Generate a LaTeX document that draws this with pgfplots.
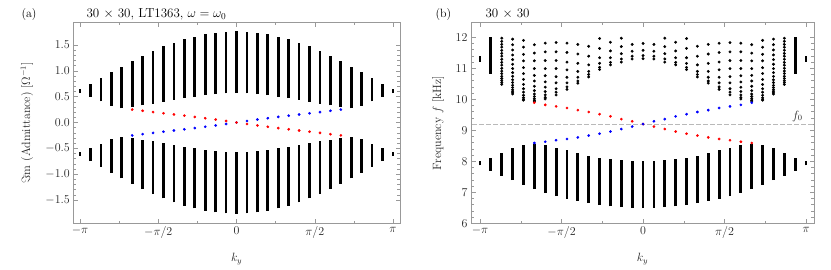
\RequirePackage{fix-cm}
\documentclass[border=0pt]{standalone}
\usepackage{pgfplots}
\pgfplotsset{compat=1.18}
\usepackage{pgfplotstable}
\definecolor{framegray}{gray}{0.6}
\definecolor{mred}{rgb}{1,0,0}
\definecolor{mblue}{rgb}{0,0,1}

% (a) upper band: column index n (k = -pi + n*pi/15), lower and upper edge
\pgfplotstableread{
n lo hi
0 0.570 0.640
1 0.500 0.745
2 0.410 0.857
3 0.325 0.970
4 0.275 1.080
5 0.300 1.188
6 0.330 1.290
7 0.365 1.385
8 0.400 1.470
9 0.440 1.545
10 0.470 1.608
11 0.500 1.663
12 0.528 1.703
13 0.548 1.737
14 0.562 1.757
15 0.567 1.765
16 0.562 1.757
17 0.548 1.737
18 0.528 1.703
19 0.500 1.663
20 0.470 1.608
21 0.440 1.545
22 0.400 1.470
23 0.365 1.385
24 0.330 1.290
25 0.300 1.188
26 0.275 1.080
27 0.325 0.970
28 0.410 0.857
29 0.500 0.745
30 0.570 0.640
}\bandAup
% (a) lower band
\pgfplotstableread{
n lo hi
0 -0.640 -0.570
1 -0.745 -0.500
2 -0.857 -0.410
3 -0.970 -0.325
4 -1.080 -0.275
5 -1.188 -0.300
6 -1.290 -0.330
7 -1.385 -0.365
8 -1.470 -0.400
9 -1.545 -0.440
10 -1.608 -0.470
11 -1.663 -0.500
12 -1.703 -0.528
13 -1.737 -0.548
14 -1.757 -0.562
15 -1.765 -0.567
16 -1.757 -0.562
17 -1.737 -0.548
18 -1.703 -0.528
19 -1.663 -0.500
20 -1.608 -0.470
21 -1.545 -0.440
22 -1.470 -0.400
23 -1.385 -0.365
24 -1.290 -0.330
25 -1.188 -0.300
26 -1.080 -0.275
27 -0.970 -0.325
28 -0.857 -0.410
29 -0.745 -0.500
30 -0.640 -0.570
}\bandAlo
% (a) edge states
\pgfplotstableread{
n red blue
5 0.250 -0.250
6 0.226 -0.226
7 0.201 -0.201
8 0.178 -0.178
9 0.155 -0.155
10 0.132 -0.132
11 0.108 -0.108
12 0.083 -0.083
13 0.057 -0.057
14 0.029 -0.029
15 0.000 0.000
16 -0.029 0.029
17 -0.057 0.057
18 -0.083 0.083
19 -0.108 0.108
20 -0.132 0.132
21 -0.155 0.155
22 -0.178 0.178
23 -0.201 0.201
24 -0.226 0.226
25 -0.250 0.250
}\edgeA

% (b) lower band
\pgfplotstableread{
n lo hi
0 7.87 8.01
1 7.70 8.10
2 7.54 8.28
3 7.39 8.42
4 7.24 8.54
5 7.10 8.56
6 6.99 8.53
7 6.88 8.44
8 6.79 8.35
9 6.72 8.27
10 6.65 8.18
11 6.59 8.12
12 6.55 8.06
13 6.52 8.03
14 6.50 8.01
15 6.49 8.00
16 6.50 8.01
17 6.52 8.03
18 6.55 8.06
19 6.59 8.12
20 6.65 8.18
21 6.72 8.27
22 6.79 8.35
23 6.88 8.44
24 6.99 8.53
25 7.10 8.56
26 7.24 8.54
27 7.39 8.42
28 7.54 8.28
29 7.70 8.10
30 7.87 8.01
}\bandBlo
% (b) dense upper columns
\pgfplotstableread{
n lo hi
0 11.21 11.40
1 10.83 12.00
29 10.83 12.00
30 11.21 11.40
}\bandBupdense
% (b) upper band, single modes
\pgfplotstableread{
n f
2 11.97
2 11.87
2 11.77
2 11.68
2 11.58
2 11.48
2 11.39
2 11.29
2 11.19
2 11.10
2 11.00
2 10.91
2 10.83
2 10.74
2 10.67
2 10.60
2 10.54
2 10.48
3 11.94
3 11.76
3 11.59
3 11.43
3 11.28
3 11.13
3 10.99
3 10.86
3 10.74
3 10.63
3 10.54
3 10.45
3 10.38
3 10.31
3 10.26
3 10.21
3 10.17
4 11.90
4 11.68
4 11.45
4 11.24
4 11.02
4 10.83
4 10.64
4 10.48
4 10.34
4 10.23
4 10.13
4 10.05
4 10.00
4 9.97
5 11.76
5 11.49
5 11.24
5 10.99
5 10.77
5 10.59
5 10.42
5 10.28
5 10.17
5 10.09
5 10.02
5 9.97
5 9.94
6 11.81
6 11.53
6 11.25
6 10.99
6 10.76
6 10.56
6 10.39
6 10.25
6 10.14
6 10.06
6 10.01
7 11.83
7 11.53
7 11.25
7 10.99
7 10.73
7 10.53
7 10.34
7 10.23
7 10.14
8 11.81
8 11.51
8 11.20
8 10.95
8 10.71
8 10.53
8 10.40
8 10.32
9 11.77
9 11.46
9 11.16
9 10.90
9 10.71
9 10.59
9 10.52
10 11.71
10 11.39
10 11.11
10 10.90
10 10.80
10 10.72
11 11.96
11 11.64
11 11.34
11 11.16
11 11.03
11 10.96
12 11.84
12 11.56
12 11.34
12 11.19
12 11.11
13 11.97
13 11.70
13 11.47
13 11.30
13 11.20
14 11.77
14 11.55
14 11.39
14 11.30
15 11.80
15 11.58
15 11.41
15 11.31
16 11.77
16 11.55
16 11.39
16 11.30
17 11.97
17 11.70
17 11.47
17 11.30
17 11.20
18 11.84
18 11.56
18 11.34
18 11.19
18 11.11
19 11.96
19 11.64
19 11.34
19 11.16
19 11.03
19 10.96
20 11.71
20 11.39
20 11.11
20 10.90
20 10.80
20 10.72
21 11.77
21 11.46
21 11.16
21 10.90
21 10.71
21 10.59
21 10.52
22 11.81
22 11.51
22 11.20
22 10.95
22 10.71
22 10.53
22 10.40
22 10.32
23 11.83
23 11.53
23 11.25
23 10.99
23 10.73
23 10.53
23 10.34
23 10.23
23 10.14
24 11.81
24 11.53
24 11.25
24 10.99
24 10.76
24 10.56
24 10.39
24 10.25
24 10.14
24 10.06
24 10.01
25 11.76
25 11.49
25 11.24
25 10.99
25 10.77
25 10.59
25 10.42
25 10.28
25 10.17
25 10.09
25 10.02
25 9.97
25 9.94
26 11.90
26 11.68
26 11.45
26 11.24
26 11.02
26 10.83
26 10.64
26 10.48
26 10.34
26 10.23
26 10.13
26 10.05
26 10.00
26 9.97
27 11.94
27 11.76
27 11.59
27 11.43
27 11.28
27 11.13
27 10.99
27 10.86
27 10.74
27 10.63
27 10.54
27 10.45
27 10.38
27 10.31
27 10.26
27 10.21
27 10.17
28 11.97
28 11.87
28 11.77
28 11.68
28 11.58
28 11.48
28 11.39
28 11.29
28 11.19
28 11.10
28 11.00
28 10.91
28 10.83
28 10.74
28 10.67
28 10.60
28 10.54
28 10.48
}\bandBupdots
% (b) edge states
\pgfplotstableread{
n red blue
5 9.89 8.59
6 9.82 8.63
7 9.77 8.68
8 9.72 8.72
9 9.65 8.77
10 9.59 8.83
11 9.52 8.89
12 9.45 8.96
13 9.36 9.04
14 9.29 9.12
15 9.20 9.20
16 9.12 9.29
17 9.04 9.36
18 8.96 9.45
19 8.89 9.52
20 8.83 9.59
21 8.77 9.65
22 8.72 9.72
23 8.68 9.77
24 8.63 9.82
25 8.59 9.89
}\edgeB

\pgfplotsset{
  mstyle/.style={
    scale only axis,
    axis line style={framegray, line width=0.6pt},
    every tick/.style={framegray, line width=0.5pt},
    major tick length=4.5pt, minor tick length=2.6pt,
    tick align=inside,
    tick label style={font=\fontsize{12}{14}\selectfont, black!85},
    label style={font=\fontsize{12}{14}\selectfont, black!85},
    xtick={0,7.5,15,22.5,30},
    xticklabels={$-\pi$,$-\pi/2$,$0$,$\pi/2$,$\pi$},
    minor xtick={3.75,11.25,18.75,26.25},
    xlabel={$k_y$},
    x label style={at={(axis description cs:0.5,-0.178)}, anchor=center},
    clip=true,
  },
  bars/.style={draw=none, mark=none,
    error bars/.cd, y dir=plus, y explicit, error mark=none,
    error bar style={draw=black, line width=#1, solid}},
}

\begin{document}
\begin{tikzpicture}
\useasboundingbox (0,0) rectangle (831pt,269pt);

\begin{axis}[mstyle,
  at={(73.3pt,45.7pt)}, anchor=south west,
  width=326.7pt, height=200.6pt,
  xmin=-0.645, xmax=30.67, ymin=-1.95, ymax=1.93,
  ytick={-1.5,-1,-0.5,0,0.5,1,1.5},
  minor y tick num=4,
  yticklabel style={/pgf/number format/.cd, fixed, fixed zerofill, precision=1},
  ylabel={$\Im$m (Admittance) [$\Omega^{-1}$]},
  y label style={at={(axis description cs:-0.142,0.5)}, anchor=center},
]
\addplot[bars=2.7pt] table[x=n, y=lo, y error expr=\thisrow{hi}-\thisrow{lo}] {\bandAup};
\addplot[bars=2.7pt] table[x=n, y=lo, y error expr=\thisrow{hi}-\thisrow{lo}] {\bandAlo};
\addplot[only marks, mark=*, mark size=1.15pt, mblue, mark options={draw=mblue, fill=mblue}] table[x=n, y=blue] {\edgeA};
\addplot[only marks, mark=*, mark size=1.15pt, mred, mark options={draw=mred, fill=mred}] table[x=n, y=red] {\edgeA};
\end{axis}

\begin{axis}[mstyle,
  at={(471pt,45.7pt)}, anchor=south west,
  width=343pt, height=200.6pt,
  xmin=-0.83, xmax=30.73, ymin=6, ymax=12.47,
  ytick={6,7,8,9,10,11,12},
  minor y tick num=4,
  ylabel={Frequency $f$ [kHz]},
  y label style={at={(axis description cs:-0.096,0.5)}, anchor=center},
]
\addplot[gray!55, line width=0.6pt, dash pattern=on 4.5pt off 2.5pt] coordinates {(-2,9.2) (32,9.2)};
\addplot[bars=2.8pt] table[x=n, y=lo, y error expr=\thisrow{hi}-\thisrow{lo}] {\bandBlo};
\addplot[bars=2.8pt] table[x=n, y=lo, y error expr=\thisrow{hi}-\thisrow{lo}] {\bandBupdense};
\addplot[only marks, mark=*, mark size=1.25pt, black] table[x=n, y=f] {\bandBupdots};
\addplot[only marks, mark=*, mark size=1.15pt, mred, mark options={draw=mred, fill=mred}] table[x=n, y=red] {\edgeB};
\addplot[only marks, mark=*, mark size=1.15pt, mblue, mark options={draw=mblue, fill=mblue}] table[x=n, y=blue] {\edgeB};
\node[font=\fontsize{12}{14}\selectfont, black!85] at (axis cs:29.2,9.46) {$f_0$};
\end{axis}

\node[anchor=base west, font=\fontsize{12}{14}\selectfont] at (18pt,251.5pt) {(a)};
\node[anchor=base west, font=\fontsize{13}{15}\selectfont] at (83pt,251.5pt) {30 $\times$ 30, LT1363, $\omega=\omega_0$};
\node[anchor=base west, font=\fontsize{12}{14}\selectfont] at (432pt,251.5pt) {(b)};
\node[anchor=base west, font=\fontsize{13}{15}\selectfont] at (482pt,251.5pt) {30 $\times$ 30};
\end{tikzpicture}
\end{document}
